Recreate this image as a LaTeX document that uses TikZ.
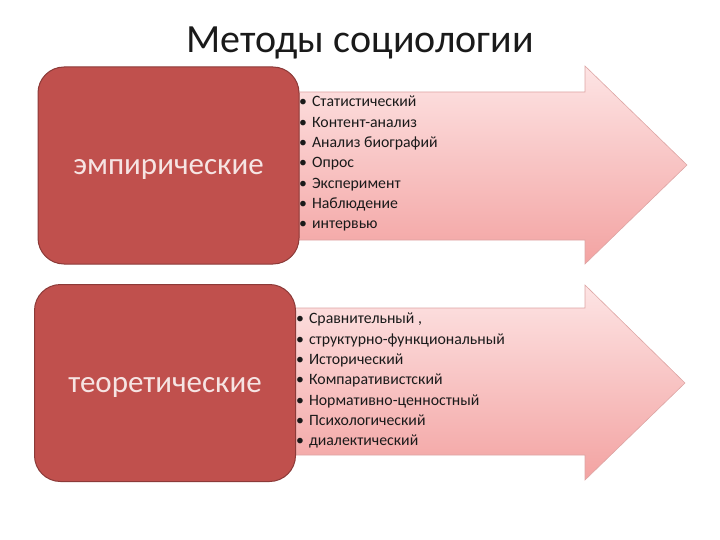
\documentclass[tikz,border=0pt]{standalone}
\usepackage{fontspec}
\setmainfont{Carlito}
\usepackage{tikz}
\usetikzlibrary{positioning, calc}
\definecolor{boxred}{HTML}{C0504D}
\definecolor{boxedge}{HTML}{8C3A38}
\definecolor{boxtext}{HTML}{F6E4E3}
\definecolor{arrowtop}{HTML}{FDE4E4}
\definecolor{arrowbottom}{HTML}{F3A3A2}
\definecolor{arrowedge}{HTML}{DDA5A4}
\definecolor{textdark}{HTML}{1A1A1A}
\newcommand{\itm}{\textbullet\hspace{5pt}}

\begin{document}
\begin{tikzpicture}[x=1pt, y=-1pt, font=\fontsize{15.8}{20.3}\selectfont]
    \tikzstyle{method} = [rectangle, rounded corners=26pt, minimum width=261pt, minimum height=197pt, draw=boxedge, line width=1pt, fill=boxred, text=boxtext, text height=24pt, text depth=5pt, font=\fontsize{31}{34}\selectfont]
    \tikzstyle{flow} = [draw=arrowedge, line width=0.6pt, top color=arrowtop, bottom color=arrowbottom]
    \tikzstyle{items} = [align=left, anchor=north west, inner sep=0pt, text=textdark]

    \useasboundingbox (0,0) rectangle (720,540);

    \node (title) at (360,43) [text=textdark, font=\fontsize{40}{44}\selectfont] {Методы социологии};

    % arrows behind the boxes
    \path[flow] (290,92) -- (585,92) -- (585,66) -- (687,165) -- (585,264) -- (585,240) -- (290,240) -- cycle;
    \path[flow] (290,308) -- (585,308) -- (585,285) -- (685,383) -- (585,480) -- (585,455) -- (290,455) -- cycle;

    \node (empir) at (168.5,165.5) [method] {эмпирические};
    \node (theor) at (165,383) [method] {теоретические};

    \node (emplist) at (299,96) [items] {\itm Статистический\\ \itm Контент-анализ\\ \itm Анализ биографий\\ \itm Опрос\\ \itm Эксперимент\\ \itm Наблюдение\\ \itm интервью};
    \node (theolist) at (296,313) [items] {\itm Сравнительный ,\\ \itm структурно-функциональный\\ \itm Исторический\\ \itm Компаративистский\\ \itm Нормативно-ценностный\\ \itm Психологический\\ \itm диалектический};
\end{tikzpicture}
\end{document}
